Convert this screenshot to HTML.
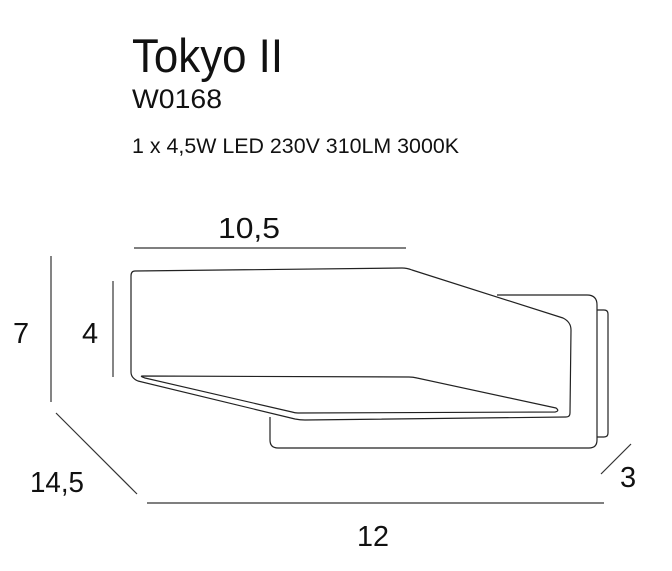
<!DOCTYPE html>
<html><head><meta charset="utf-8"><style>
html,body{margin:0;padding:0;background:#fff;}
svg{display:block;}
text{font-family:"Liberation Sans",sans-serif;fill:#111;}
</style></head><body>
<svg width="672" height="571" viewBox="0 0 672 571" xmlns="http://www.w3.org/2000/svg">
<text x="132" y="72" font-size="47" textLength="151" lengthAdjust="spacingAndGlyphs">Tokyo II</text>
<text x="132" y="108" font-size="27" textLength="90" lengthAdjust="spacingAndGlyphs">W0168</text>
<text x="132" y="153" font-size="21" textLength="327" lengthAdjust="spacingAndGlyphs">1 x 4,5W LED 230V 310LM 3000K</text>

<g fill="none" stroke="#222" stroke-width="1.2" stroke-linejoin="round">
<path d="M597,310 L604,310 Q608,310 608,314 L608,433 Q608,437 604,437 L597,437"/>
<path d="M497,295 L587,295 Q597,295 597,305 L597,440 Q597,448 589,448 L278,448 Q270,448 270,440 L270,417"/>
<path d="M135,271 L402,268 Q407,268 412,270 L563,318 Q571,322 571,330 L570,413 Q570,417 566,417 L305,420 Q300,420 295,419 L138,381 Q131,378 131,372 L131,276 Q131,271 135,271 Z" fill="#fff"/>
<path d="M143,376 L409,377 Q413,377 417,378 L556,408 Q560,411 555,412 L298,413 Q295,413 292,412 L145,378 Q139,376 143,376 Z"/>
</g>

<g stroke="#333" stroke-width="1.2">
<line x1="134" y1="248" x2="406" y2="248"/>
<line x1="51" y1="256" x2="51" y2="402"/>
<line x1="113" y1="281" x2="113" y2="377"/>
<line x1="56" y1="413" x2="137" y2="494"/>
<line x1="147" y1="503" x2="604" y2="503"/>
<line x1="631" y1="444" x2="601" y2="474"/>
</g>

<text x="218" y="238" font-size="29" textLength="62" lengthAdjust="spacingAndGlyphs">10,5</text>
<text x="13" y="343" font-size="29">7</text>
<text x="82" y="343" font-size="29">4</text>
<text x="30" y="492" font-size="29" textLength="54" lengthAdjust="spacingAndGlyphs">14,5</text>
<text x="620" y="487" font-size="29">3</text>
<text x="357" y="546" font-size="29" textLength="32" lengthAdjust="spacingAndGlyphs">12</text>
</svg>
</body></html>
